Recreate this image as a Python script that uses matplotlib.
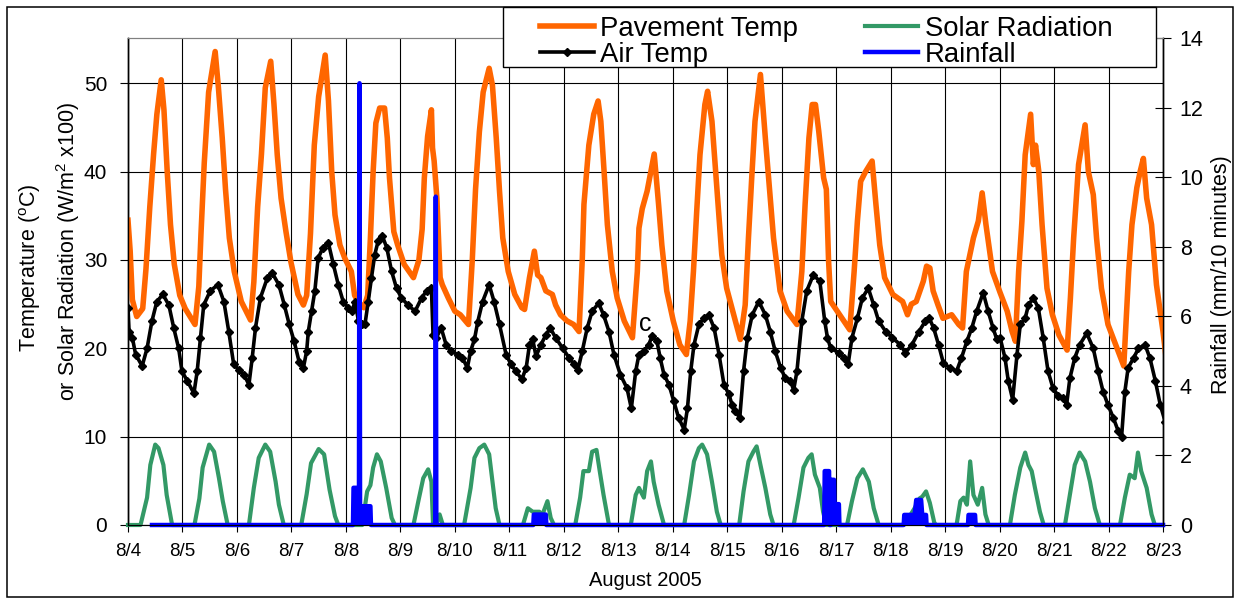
import numpy as np
import matplotlib.pyplot as plt
from matplotlib.patches import Rectangle

plt.rcParams['font.family'] = ['Liberation Sans', 'DejaVu Sans']
plt.rcParams['mathtext.fontset'] = 'custom'
plt.rcParams['mathtext.rm'] = 'Liberation Sans'

# time in days after 8/4 00:00
day_labels = ['8/%d' % d for d in range(4, 24)]

pave_t = [0.00, 0.04, 0.08, 0.16, 0.27, 0.33, 0.40, 0.47, 0.53, 0.61, 0.66, 0.72, 0.78, 0.85, 0.95,
          1.05, 1.23, 1.30, 1.34, 1.40, 1.48, 1.60, 1.66, 1.73, 1.79, 1.86, 1.95,
          2.08, 2.25, 2.31, 2.38, 2.45, 2.52, 2.62, 2.68, 2.74, 2.81, 2.90, 2.99,
          3.12, 3.22, 3.28, 3.35, 3.42, 3.50, 3.62, 3.68, 3.74, 3.80, 3.89, 3.98,
          4.10, 4.16, 4.23, 4.33, 4.40, 4.45, 4.50, 4.55, 4.62, 4.71, 4.76, 4.80, 4.88, 4.95,
          5.07, 5.24, 5.34, 5.40, 5.44, 5.50, 5.57, 5.59, 5.62, 5.67, 5.73, 5.77, 5.88,
          6.00, 6.10, 6.25, 6.32, 6.38, 6.45, 6.52, 6.63, 6.69, 6.76, 6.82, 6.88, 6.98,
          7.10, 7.23, 7.28, 7.37, 7.46, 7.52, 7.58, 7.67, 7.79, 7.85, 7.94,
          8.06, 8.18, 8.28, 8.34, 8.37, 8.46, 8.55, 8.63, 8.68, 8.74, 8.80, 8.89, 8.98,
          9.11, 9.26, 9.35, 9.38, 9.44, 9.53, 9.66, 9.74, 9.80, 9.89,
          10.01, 10.13, 10.25, 10.32, 10.38, 10.44, 10.50, 10.59, 10.64, 10.72, 10.81, 10.90, 10.99,
          11.12, 11.24, 11.33, 11.39, 11.45, 11.51, 11.61, 11.70, 11.76, 11.85, 11.97,
          12.10, 12.28, 12.37, 12.43, 12.50, 12.56, 12.62, 12.68, 12.77, 12.82, 12.86, 12.90,
          13.02, 13.14, 13.25, 13.33, 13.39, 13.45, 13.54, 13.66, 13.73, 13.80, 13.89,
          14.04, 14.22, 14.31, 14.38, 14.47, 14.60, 14.66, 14.72, 14.78, 14.87, 14.96,
          15.12, 15.25, 15.32, 15.39, 15.52, 15.61, 15.68, 15.75, 15.87,
          16.01, 16.14, 16.23, 16.29, 16.35, 16.41, 16.47, 16.57, 16.62, 16.66, 16.72, 16.78, 16.87, 16.97,
          17.09, 17.24, 17.30, 17.36, 17.45, 17.57, 17.63, 17.72, 17.78, 17.87, 17.99,
          18.28, 18.37, 18.43, 18.52, 18.58, 18.64, 18.70, 18.79, 18.88, 19.00, 19.05]
pave_v = [34.5, 31, 25.5, 23.6, 24.5, 29, 36, 42, 46.5, 50.4, 47, 40, 34, 29.5, 26,
          24.5, 22.7, 27, 33, 41, 49, 53.6, 49.5, 43.8, 38, 32.5, 28.7,
          25.3, 23.2, 27.5, 36, 42, 49.5, 52.5, 47.6, 41.9, 37, 33.2, 29.8,
          26.1, 24.9, 26, 33, 43, 48.5, 53.2, 48, 40, 35.1, 31.7, 30.2,
          28.7, 26, 25.2, 24.6, 26, 32.5, 40, 45.5, 47.2, 47.2, 43.8, 39.3, 33.2, 31.7,
          29.5, 28, 30, 33.5, 39.3, 44, 47, 42.7, 41.2, 37, 28, 27.2, 25.7,
          24.2, 23.8, 22.7, 30, 38, 44.5, 49, 51.7, 49.8, 43.8, 37.8, 32.5, 28.7,
          26.1, 24.6, 24.4, 28, 31, 28.3, 28, 26.5, 26.1, 24.9, 23.8,
          23.1, 22.7, 21.9, 30.2, 36.3, 43, 46.5, 48, 45.7, 40, 34, 28.7, 25.7,
          23.1, 21.2, 28.7, 33.6, 35.8, 37.8, 42, 36.3, 31.7, 26.5,
          23.1, 20.4, 19.3, 23.1, 28.7, 35.5, 41.9, 47.6, 49.1, 45.7, 38.1, 30.6, 26.8,
          23.8, 21, 24.9, 32.5, 39.3, 45.7, 51, 43.8, 39.3, 32.5, 26.5,
          24.2, 22.7, 28.7, 36.3, 43.8, 47.6, 47.6, 44.6, 39.3, 38, 30, 25.3,
          24.2, 23.1, 22.1, 28.7, 34.4, 38.9, 40, 41.2, 36.3, 31.7, 28,
          26.1, 25.3, 23.8, 25, 25.3, 27.6, 29.3, 29.1, 26.5, 24.9, 23.4,
          23.8, 22.7, 22.3, 28.7, 32.5, 34.4, 37.6, 34, 28.7,
          26.3, 24.2, 21.9, 20.8, 28.7, 34.4, 41.9, 46.5, 40.8, 43, 40, 34, 26.8, 23.8,
          21.5, 19.8, 25.7, 32.5, 40.8, 45.3, 40, 37.4, 32.5, 26.8, 22.7,
          18, 28.7, 34, 38.2, 40, 41.5, 37, 34, 27.2, 21.9, 19.3]

air_t = [0.00, 0.02, 0.08, 0.14, 0.26, 0.35, 0.44, 0.53, 0.64, 0.75, 0.84, 0.93, 0.99,
         1.09, 1.21, 1.27, 1.33, 1.39, 1.51, 1.65, 1.76, 1.85, 1.94,
         2.03, 2.13, 2.22, 2.28, 2.34, 2.43, 2.56, 2.65, 2.77, 2.87, 2.96,
         3.05, 3.14, 3.22, 3.28, 3.31, 3.37, 3.43, 3.49, 3.58, 3.68, 3.77, 3.86, 3.95,
         4.04, 4.11, 4.17, 4.23, 4.29, 4.35, 4.41, 4.47, 4.53, 4.59, 4.67, 4.75, 4.84, 4.93,
         5.02, 5.14, 5.27, 5.39, 5.48, 5.57, 5.60, 5.66, 5.75, 5.84, 5.93,
         6.05, 6.14, 6.23, 6.29, 6.36, 6.42, 6.51, 6.63, 6.72, 6.82, 6.94,
         7.03, 7.12, 7.23, 7.31, 7.37, 7.43, 7.49, 7.58, 7.67, 7.75, 7.85, 7.98,
         8.10, 8.19, 8.26, 8.34, 8.43, 8.52, 8.64, 8.73, 8.83, 8.92,
         9.04, 9.16, 9.24, 9.32, 9.38, 9.47, 9.56, 9.62, 9.71, 9.77, 9.84, 9.93,
         10.02, 10.11, 10.21, 10.27, 10.33, 10.39, 10.48, 10.57, 10.66, 10.76, 10.85, 10.94,
         11.03, 11.09, 11.15, 11.23, 11.30, 11.37, 11.46, 11.58, 11.70, 11.79, 11.88, 11.98,
         12.07, 12.16, 12.22, 12.28, 12.37, 12.46, 12.58, 12.70, 12.79, 12.84, 12.90,
         13.05, 13.14, 13.22, 13.29, 13.39, 13.48, 13.59, 13.69, 13.78, 13.91,
         14.03, 14.18, 14.27, 14.39, 14.52, 14.64, 14.71, 14.79, 14.88, 14.97,
         15.09, 15.21, 15.30, 15.40, 15.49, 15.58, 15.70, 15.79, 15.88, 15.95,
         16.01, 16.10, 16.16, 16.24, 16.32, 16.38, 16.47, 16.53, 16.62, 16.71, 16.80, 16.89, 16.98,
         17.08, 17.17, 17.23, 17.29, 17.38, 17.47, 17.60, 17.72, 17.81, 17.90, 17.99,
         18.09, 18.18, 18.24, 18.30, 18.36, 18.46, 18.55, 18.67, 18.76, 18.86, 18.95, 19.04, 19.08]
air_v = [24.6, 21.9, 21.2, 19.3, 18, 20, 23.1, 25.3, 26.1, 24.9, 22.3, 20, 17.4,
         16.3, 14.9, 17.4, 21.2, 24.9, 26.5, 27.2, 25.3, 21.9, 18.2,
         17.6, 17, 15.9, 18.9, 22.3, 25.7, 28, 28.5, 27.2, 24.9, 22.7,
         20.8, 18.5, 17.8, 19.7, 21.9, 24.2, 26.5, 30.2, 31.4, 31.9, 29.5, 27.2, 25.3,
         24.6, 24.2, 25.3, 23.1, 22.7, 22.7, 25.3, 28, 30.6, 32.1, 32.7, 31.4, 28.7, 26.8,
         25.7, 24.9, 24.2, 25.7, 26.5, 26.8, 21.5, 21.2, 22.3, 20.4, 19.7,
         19.3, 18.9, 17.8, 19.7, 21, 23, 25.3, 27.2, 25.3, 22.7, 19.3,
         18.2, 17.4, 16.5, 17.8, 20.4, 21, 19.1, 20.4, 21.5, 22.3, 21.2, 20,
         18.9, 18.2, 17.6, 19.7, 22.3, 24.2, 25.1, 23.8, 21.9, 19.3,
         17, 15.5, 13.2, 17.4, 19.3, 19.7, 20.4, 21.4, 20.8, 18.9, 17, 15.9,
         14, 12.1, 10.8, 13.2, 17.4, 20.4, 22.7, 23.4, 23.8, 22.3, 19.3, 15.9,
         14.8, 13.6, 12.9, 12.1, 17.4, 21.2, 23.8, 25.3, 23.8, 21.9, 19.7, 17.8,
         16.6, 16.3, 15.3, 17.4, 23.1, 26.5, 28.3, 27.6, 23.1, 21.2, 20,
         19.5, 18.9, 18.2, 21.2, 23.4, 25.7, 26.8, 24.9, 23.1, 21.9,
         21.2, 20.4, 19.5, 20.4, 21.9, 23.1, 23.4, 22.3, 20.4, 18.3,
         17.8, 17.4, 18.9, 20.8, 22.3, 24.2, 26.3, 24.2, 22.3, 21,
         21.2, 18.9, 16.3, 14.2, 19.3, 22.7, 23.4, 24.9, 25.7, 24.6, 21.2, 17.4, 15.5,
         14.6, 14.4, 13.6, 16.6, 18.9, 20.4, 21.7, 20, 17.4, 15.1, 13.6,
         12.1, 10.6, 10, 15.1, 17.8, 18.9, 20, 20.4, 18.9, 16.3, 13.6, 11.7, 10.6]

solar_t = [0.00, 0.23, 0.35, 0.41, 0.50, 0.56, 0.65, 0.71, 0.81,
           1.22, 1.31, 1.37, 1.49, 1.58, 1.67, 1.74, 1.83,
           2.22, 2.31, 2.40, 2.52, 2.61, 2.71, 2.77, 2.86,
           3.18, 3.28, 3.36, 3.50, 3.60, 3.70, 3.80, 3.86,
           4.30, 4.36, 4.39, 4.45, 4.50, 4.57, 4.64, 4.74, 4.84, 4.90,
           5.24, 5.33, 5.42, 5.51, 5.57, 5.60, 5.66, 5.72, 5.78,
           6.17, 6.29, 6.36, 6.45, 6.54, 6.63, 6.69, 6.75, 6.82,
           7.25, 7.34, 7.43, 7.55, 7.61, 7.70, 7.76, 7.82,
           8.21, 8.30, 8.36, 8.46, 8.52, 8.60, 8.66, 8.73, 8.83,
           9.23, 9.32, 9.38, 9.47, 9.53, 9.60, 9.65, 9.74, 9.84,
           10.21, 10.30, 10.39, 10.48, 10.54, 10.63, 10.72, 10.81, 10.88,
           11.22, 11.30, 11.39, 11.48, 11.54, 11.61, 11.70, 11.79, 11.85,
           12.22, 12.31, 12.40, 12.49, 12.55, 12.61, 12.70, 12.76, 12.82,
           13.20, 13.29, 13.39, 13.49, 13.60, 13.69, 13.78,
           14.22, 14.35, 14.45, 14.53, 14.58, 14.65, 14.72, 14.80, 14.83,
           15.21, 15.28, 15.34, 15.40, 15.46, 15.52, 15.60, 15.68, 15.74, 15.80,
           16.19, 16.28, 16.38, 16.47, 16.53, 16.59, 16.65, 16.74, 16.81,
           17.20, 17.29, 17.38, 17.47, 17.57, 17.66, 17.75, 17.84,
           18.21, 18.30, 18.39, 18.48, 18.54, 18.60, 18.70, 18.79, 18.85, 19.00]
solar_v = [0, 0, 3.1, 6.8, 9.1, 8.7, 6.8, 3.4, 0,
           0, 3.0, 6.5, 9.1, 8.3, 5.3, 2.7, 0,
           0, 4.2, 7.6, 9.1, 8.3, 4.9, 2.3, 0,
           0, 3.5, 7.0, 8.6, 8.0, 4.0, 1.0, 0,
           0, 2.5, 3.8, 4.5, 6.5, 8.0, 7.2, 4.2, 0.8, 0,
           0, 2.7, 5.3, 6.3, 4.9, 0, 0, 1.2, 0,
           0, 4.2, 7.6, 8.7, 9.1, 8.0, 4.9, 1.9, 0,
           0, 1.9, 1.5, 1.5, 1.2, 2.7, 0.8, 0,
           0, 3.1, 6.1, 6.1, 8.3, 8.5, 6.1, 3.4, 0,
           0, 3.4, 4.2, 3.1, 6.1, 7.2, 4.9, 2.3, 0,
           0, 3.4, 7.2, 8.7, 9.1, 8.0, 4.9, 1.5, 0,
           0, 3.8, 7.2, 8.3, 8.9, 6.8, 4.2, 1.2, 0,
           0, 3.1, 6.5, 7.6, 8.0, 5.7, 4.2, 1.5, 0,
           0, 2.7, 5.3, 6.3, 4.9, 1.9, 0,
           0, 1.0, 2.0, 3.0, 3.2, 3.8, 2.5, 0.3, 0,
           0, 2.7, 3.1, 2.3, 7.2, 3.4, 2.3, 4.2, 1.2, 0,
           0, 3.4, 6.5, 8.2, 6.8, 6.1, 4.2, 1.5, 0,
           0, 3.4, 6.8, 8.2, 7.2, 4.9, 1.9, 0,
           0, 3.1, 5.7, 5.3, 8.2, 6.1, 4.2, 1.2, 0, 0]

rain_t = [0.44, 4.13, 4.14, 4.24, 4.25, 4.26, 4.27, 4.45, 4.46,
          5.64, 5.65, 5.66,
          7.44, 7.45, 7.67, 7.68,
          12.78, 12.79, 12.87, 12.88, 12.90, 12.91, 12.96, 12.97, 13.05, 13.06,
          14.24, 14.25, 14.44, 14.47, 14.56, 14.58, 14.65, 14.66,
          15.42, 15.43, 15.55, 15.56, 19.00]
rain_v = [0, 0, 1.07, 1.07, 12.7, 0.54, 0.54, 0.54, 0,
          0, 9.44, 0,
          0, 0.3, 0.3, 0,
          0, 1.55, 1.55, 0, 0, 1.3, 1.3, 0.6, 0.6, 0,
          0, 0.29, 0.29, 0.72, 0.72, 0.29, 0.29, 0,
          0, 0.29, 0.29, 0, 0]

W, H = 1236, 600
fig = plt.figure(figsize=(W / 100, H / 100), dpi=100)
ax = fig.add_axes([128 / W, 1 - 525 / H, (1163 - 128) / W, (525 - 38) / H])
ax2 = ax.twinx()

l1, = ax.plot(pave_t, pave_v, color='#FF6600', lw=4.0, label='Pavement Temp', zorder=3)
l2, = ax.plot(air_t, air_v, color='black', lw=2.6, marker='D', ms=3.6, label='Air Temp', zorder=4)
l3, = ax.plot(solar_t, solar_v, color='#339966', lw=3.0, label='Solar Radiation', zorder=3, clip_on=False)
l4, = ax2.plot(rain_t, rain_v, color='#0000FF', lw=3.2, label='Rainfall', clip_on=False)
ax2.fill_between(rain_t, rain_v, color='#0000FF', lw=0)

ax.set_xlim(0, 19)
ax.set_ylim(0, 55.13)
ax2.set_ylim(0, 14)
ax.set_xticks(range(20))
ax.set_xticklabels(day_labels)
ax.set_yticks([0, 10, 20, 30, 40, 50])
ax2.set_yticks(range(0, 15, 2))

ax.grid(True, color='black', lw=0.8)
ax.set_axisbelow(True)
ax.tick_params(axis='y', direction='out', length=6, labelsize=15, pad=9)
ax.tick_params(axis='x', direction='out', length=5, labelsize=13.5, pad=8)
ax2.tick_params(axis='y', direction='inout', length=12, labelsize=15.5, pad=6)
for a in (ax, ax2):
    a.spines['top'].set_color('#808080')
    a.spines['left'].set_linewidth(1.0)
    a.spines['right'].set_linewidth(1.0)

fig.text(30 / W, 1 - 268 / H, r'Temperature ($\mathregular{^o}$C)', rotation=90,
         ha='center', va='center', fontsize=15.5)
fig.text(68 / W, 1 - 252 / H, r'or Solar Radiation (W/m$\mathregular{^2}$ x100)', rotation=90,
         ha='center', va='center', fontsize=15.5)
fig.text(1222 / W, 1 - 275 / H, 'Rainfall (mm/10 minutes)', rotation=90,
         ha='center', va='center', fontsize=15.5)
fig.text(645 / W, 1 - 581 / H, 'August 2005', ha='center', va='center', fontsize=14.5)
ax.text(9.49, 22.8, 'c', ha='center', va='center', fontsize=18)

# legend box and outer frame
fig.patches.append(Rectangle((7 / W, 3 / H), 1226 / W, 590 / H, transform=fig.transFigure,
                             fill=False, edgecolor='black', lw=1.1, zorder=0))
fig.patches.append(Rectangle((503 / W, 1 - 67 / H), 653 / W, 60 / H, transform=fig.transFigure,
                             facecolor='white', edgecolor='black', lw=1.0, zorder=2))
fig.legend([l1, l2, l3, l4], ['Pavement Temp', 'Air Temp', 'Solar Radiation', 'Rainfall'],
           loc='upper left', bbox_to_anchor=(540 / W, 1 - 16 / H), ncol=2, frameon=False,
           fontsize=19.8, handlelength=1.95, handletextpad=0.25, columnspacing=2.4,
           labelspacing=0.0, borderpad=0, borderaxespad=0, numpoints=1)

fig.savefig('out.png', dpi=100)
